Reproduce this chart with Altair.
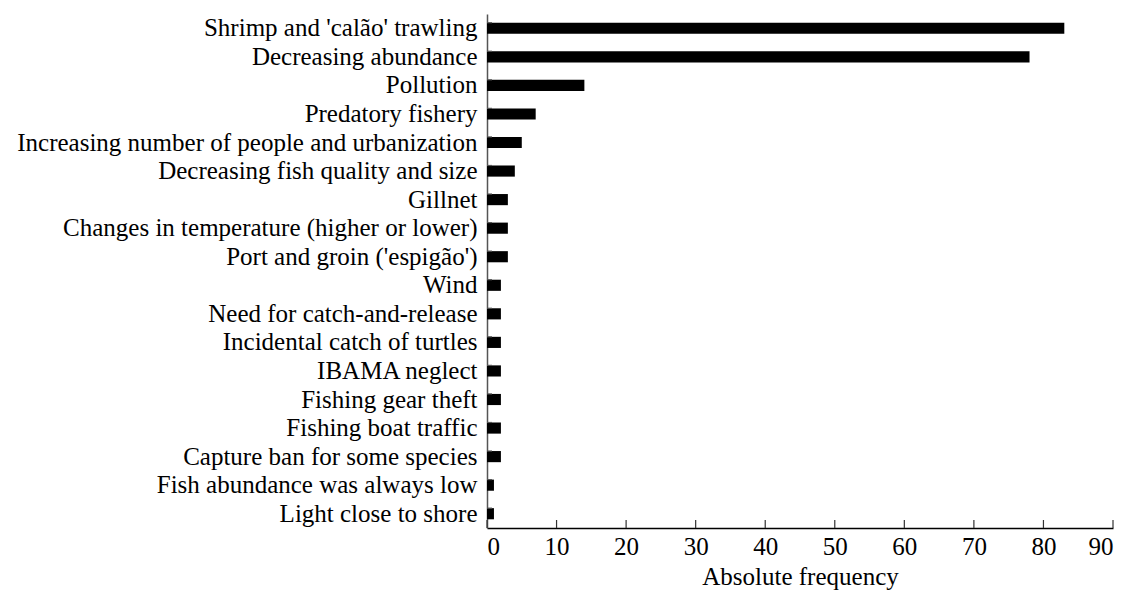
import altair as alt
import pandas as pd

categories = [
    "Shrimp and 'calão' trawling",
    "Decreasing abundance",
    "Pollution",
    "Predatory fishery",
    "Increasing number of people and urbanization",
    "Decreasing fish quality and size",
    "Gillnet",
    "Changes in temperature (higher or lower)",
    "Port and groin ('espigão')",
    "Wind",
    "Need for catch-and-release",
    "Incidental catch of turtles",
    "IBAMA neglect",
    "Fishing gear theft",
    "Fishing boat traffic",
    "Capture ban for some species",
    "Fish abundance was always low",
    "Light close to shore",
]
values = [83, 78, 14, 7, 5, 4, 3, 3, 3, 2, 2, 2, 2, 2, 2, 2, 1, 1]
x_ticks = [0, 10, 20, 30, 40, 50, 60, 70, 80, 90]

df = pd.DataFrame({"cat": categories, "val": values})
ticks_df = pd.DataFrame({"t": x_ticks})

FONT = "Liberation Serif"
FS = 25
W, H = 626, 514

ysc = alt.Scale(domain=categories, paddingInner=0.61, paddingOuter=0.305)
xsc = alt.Scale(domain=[0, 90], nice=False)

bars = alt.Chart(df).mark_bar(color="black").encode(
    x=alt.X("val:Q", scale=xsc, axis=alt.Axis(
        values=x_ticks, ticks=False, grid=False, domainColor="black", domainWidth=1.5,
        labelFont=FONT, labelFontSize=FS, labelColor="black", labelPadding=6,
        title="Absolute frequency", titleFont=FONT, titleFontSize=FS,
        titleFontWeight="normal", titleColor="black", titlePadding=5)),
    y=alt.Y("cat:N", sort=categories, scale=ysc, axis=alt.Axis(
        ticks=False, grid=False, domainColor="#555555", domainWidth=1.5,
        labelFont=FONT, labelFontSize=FS, labelColor="black", labelPadding=10,
        labelLimit=700, title=None)),
)

xt = alt.Chart(ticks_df).mark_rule(color="#333333", strokeWidth=1.2).encode(
    x=alt.X("t:Q", scale=xsc),
    y=alt.value(H),
    y2=alt.value(H - 8),
)

yt = alt.Chart(df).mark_rule(color="#555555", strokeWidth=1.2).encode(
    y=alt.Y("cat:N", sort=categories, scale=ysc, bandPosition=0),
    x=alt.value(0),
    x2=alt.value(5),
)

chart = alt.layer(bars, xt, yt).properties(
    width=W, height=H,
    autosize=alt.AutoSizeParams(type="none"),
    padding={"left": 479, "top": 6, "right": 12, "bottom": 65},
    background="white",
).configure_view(stroke=None, strokeWidth=0)

chart.save("out.html", embed_options={"renderer": "svg", "actions": False})
